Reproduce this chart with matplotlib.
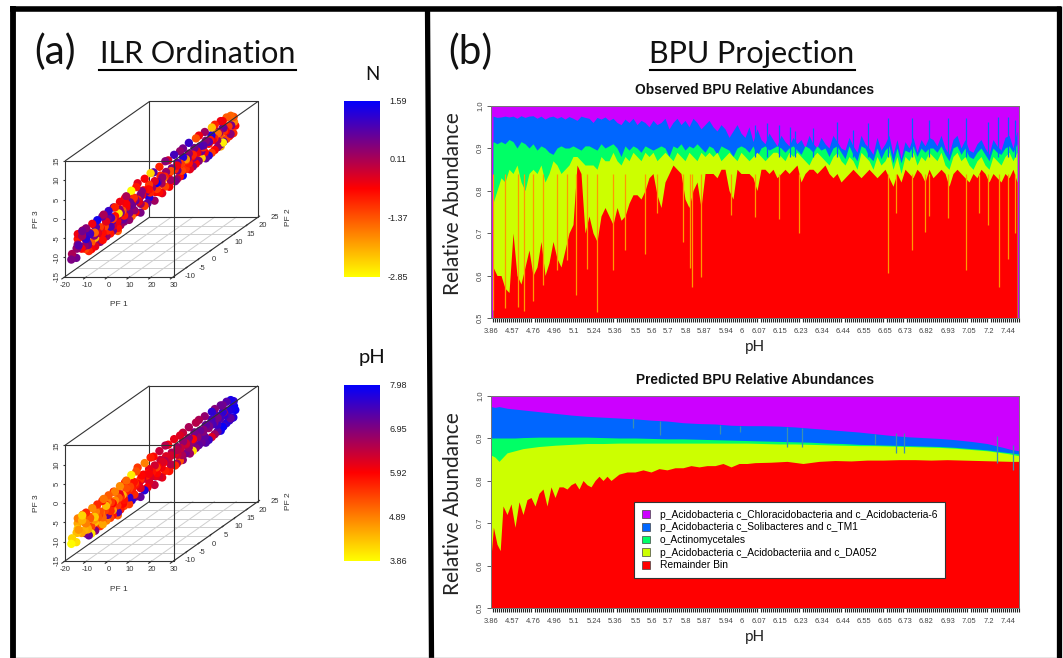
import numpy as np
import matplotlib
matplotlib.use("Agg")
import matplotlib.pyplot as plt
from matplotlib.colors import LinearSegmentedColormap
from matplotlib.patches import Patch

W, H = 1063, 658

# ordination points, shared by both panels
pf1 = [-19,-18.6,-18.2,-18,-17.7,-17.3,-17,-16.8,-16.5,-16.2,
       -16,-15.7,-15.4,-15.1,-14.8,-14.5,-14.2,-13.9,-13.6,-13.3,
       -13,-12.7,-12.4,-12.1,-11.8,-11.5,-11.2,-10.9,-10.6,-10.3,
       -10,-9.7,-9.4,-9.1,-8.8,-8.5,-8.2,-7.9,-7.6,-7.3,
       -7,-6.7,-6.4,-6.1,-5.8,-5.5,-5.2,-4.9,-4.6,-4.3,
       -4,-3.7,-3.4,-3.1,-2.8,-2.5,-2.2,-1.9,-1.6,-1.3,
       -1,-0.6,-0.2,0.2,0.6,1,1.4,1.8,2.2,2.6,
       3,3.4,3.8,4.2,4.6,5,5.4,5.8,6.2,6.6,
       7,7.4,7.8,8.2,8.6,9,9.4,9.8,10.2,10.6,
       11,11.4,11.8,12.2,12.6,13,13.4,13.8,14.2,14.6,
       15,15.4,15.8,16.2,16.6,17,17.4,17.8,18.2,18.6,
       19,19.4,19.8,20.2,20.6,21,21.4,21.8,22.2,22.6,
       23,23.4,23.8,24,24.2,23.5,22.5,21.5,20.5,19.5,
       -18,-16,-14,-12,-10,-8,-6,-4,-2,0,
       2,4,6,8,10,12,14,16,18,20,
       -17.5,-16.8,-15.2,-14.4,-13.2,-12.5,-11.3,-10.6,-9.8,-9,
       -8.3,-7.5,-6.8,-6,-5.3,-4.5,-3.8,-3,-2.3,-1.5,
       -0.8,0,0.8,1.5,2.3,3,3.8,4.5,5.3,6,
       6.8,7.5,8.3,9,9.8,10.5,11.3,12,12.8,13.5,
       14.3,15,15.8,16.5,17.3,18,18.8,19.5,20.3,21,
       21.8,22.5,23.2,-15,-12,-9,-5,-1,3,7,
       10,13,16,19,22,-13,-7,-3,2,5,
       9,12,15,18,21,-16,-11,-6,-1,4]
pf2 = [-8,-6,-9,-6.5,-7,-5,-8,-5.5,-7.5,-5,
       -6.5,-4,-7,-3.5,-6,-4,-6.5,-3,-5.5,-3.5,
       -5,-2,-4.5,-1.5,-4,-2,-3.5,-1,-3,-1,
       -3,-0.5,-2.5,0,-2,-0.5,-1.5,1,-1,0.5,
       -1,1,0,2,0,1,0.5,3,1,2.5,
       1,3,2,4,2,3,2.5,5,3,4.5,
       3,5.5,4,6,4.5,6,5,7.5,5.5,7,
       6,8,6.5,8.5,7,9,7.5,10,8,10,
       8.5,11,9,11,9.5,11.5,10,12,10.5,12.5,
       11,13.5,11.5,14,12,14.5,13,15,13.5,15.5,
       14,16.5,15,17,15,17.5,16,18,16.5,18.5,
       17,19,17.5,19.5,18,20,18.5,20.5,19,20.5,
       20,21,20.5,21,20,19.5,21,18,19,19,
       -7,-5.5,-5,-3,-2,-1,0,1,3,4,
       5,7,8,10,11,12,14,15,16,18,
       -7,-6,-5,-4.5,-4,-3,-3,-2,-1.5,-1,
       -1,-0.5,0,0.5,1,1.5,2,2.5,3,3.5,
       4,4.5,5,5.5,6,6.5,7,7.5,8,8.5,
       9,9.5,10,10.5,11,11.5,12,12.5,13,13.5,
       14,14.5,15,15.5,16,16.5,17,17.5,18,18.5,
       19,19.5,20,-5,-3.5,-1,1,4,7,9.5,
       11.5,13.5,15.5,18,20,-3.5,0,2.5,5.5,7.5,
       10.5,12.5,15,17,19,-5.5,-2.5,0.5,3.5,6.5]
pf3 = [-10,-7,-11,-5.5,-9,-6,-11,-5,-8,-10,
       -6,-11,-4.5,-9,-7,-10.5,-4,-8,-6,-10,
       -3.5,-9.5,-6,-8.5,-3,-9,-5,-8.5,-2.5,-7,
       -2,-8,-4,-7.5,-1.5,-6,-3.5,-8,-1,-7,
       -1,-6.5,-3,-6,0,-5,-2.5,-6,0.5,-4,
       1,-5,-1,-4.5,2,-3.5,0,-5,2.5,-2.5,
       3.5,-3.5,1,-3,4,-1.5,1,-3,5,-0.5,
       5,-1,2,-1.5,6,0,3,-0.5,7,1,
       7,0.5,4,1,8,1.5,5,1.5,8.5,3,
       9,2.5,6,3,10,3.5,6.5,4,10.5,4.5,
       11,4,7.5,4.5,11.5,5,8.5,5.5,12,6,
       12.5,6.5,10,7,13,7.5,11,8,13.5,8.5,
       13.5,11.5,13,10.5,9,9,11,13,7,6,
       -9,-7,-6,-6,-4,-4,-2,-1,-1,0,
       1,2,3,4,5,6,7,8,9,10,
       -8,-9.5,-8.5,-6,-7,-6,-5.5,-5.5,-3.5,-4.5,
       -4.5,-3.5,-3.5,-2.5,-3,-2,-1.5,-1,-0.5,-1,
       0,1,0.5,2,1,2.5,2,3.5,2.5,4,
       3.5,4.5,4,5.5,5,6.5,5.5,7,6,8,
       6.5,8,7.5,9,8,10,9,10.5,9.5,11,
       10,11,11,-9,-6.5,-6,-4,-0.5,-0.5,1.5,
       3,5.5,6,8,9,-5,-5,-2,0,1.5,
       3.5,4.5,6.5,8.5,10,-9,-7,-3,-1.5,0.5]
n_vals = [0.1,-0.8,0.5,-0.5,0.3,-1.0,0.6,-0.3,0.8,-1.2,
          0.2,-0.9,0.6,-1.4,1.2,-0.6,0.4,-2.2,1.0,-0.4,
          -0.5,0.3,-1.5,0.5,1.4,-0.7,-1.1,0.2,0.7,-0.9,
          0.1,-0.8,-0.4,0.6,1.1,-0.3,0.9,-1.4,0.4,-0.7,
          -0.9,0.2,-2.6,0.4,-0.5,0.7,-1.3,0.3,-0.7,0.5,
          0.1,-1.5,0.6,-0.6,-2.8,0.3,-1.0,0.5,-0.8,0.2,
          -0.4,-1.1,0.4,0.7,-0.6,1.3,-0.8,0.2,-2.5,-0.5,
          0.8,-0.7,1.5,-0.4,-0.9,-1.2,0.3,-0.6,0.4,-0.8,
          -0.3,0.5,-1.3,0.2,1.0,-0.7,-0.5,1.4,0.3,-1.0,
          0.6,-0.4,-1.9,0.3,1.1,-0.6,-0.9,0.4,-1.3,-2.4,
          -0.5,0.7,-0.8,1.2,0.2,-1.1,0.8,-0.6,-2.3,0.3,
          -0.9,0.6,-1.6,0.9,-0.5,-1.2,0.3,-0.7,-1.4,0.5,
          -1.5,-1.8,-1.3,-0.7,-1.0,0.4,0.1,-0.6,-2.7,-2.2,
          0.4,-0.5,0.9,-0.8,0.6,-1.1,0.3,-0.6,0.7,-0.4,
          -0.7,0.5,-0.9,0.3,-1.1,0.6,-0.5,0.8,-0.8,0.2,
          0.3,-0.6,0.7,-0.9,0.4,1.0,-0.5,-1.2,0.6,-0.3,
          0.9,-0.7,0.2,-1.4,0.5,-0.5,0.8,-0.8,0.3,-1.0,
          0.4,-0.6,0.7,-1.1,0.2,-0.4,0.6,-0.9,-1.5,0.3,
          -0.6,0.5,-0.9,0.8,-0.4,1.2,-1.2,0.3,-0.7,0.6,
          -0.5,0.9,-1.0,0.4,-0.7,1.3,-0.9,0.2,-1.4,0.7,
          -0.6,-1.1,0.5,0.6,-0.4,0.9,-0.8,0.5,-0.7,0.2,
          -1.2,0.4,-0.6,0.3,-1.3,0.8,-0.5,0.6,-0.9,0.1,
          0.5,-0.8,0.6,-0.5,-1.0,0.3,-0.7,0.5,-0.4,-1.1]
ph_vals = [4.2,4.6,3.9,4.9,4.4,5.0,4.1,5.3,4.7,7.0,
           4.5,7.2,4.2,5.4,4.9,4.1,5.6,4.4,5.2,6.9,
           4.8,5.5,4.3,5.1,5.6,4.6,5.3,4.9,5.7,7.1,
           5.0,5.4,4.4,5.8,5.2,4.7,5.5,5.1,5.6,7.3,
           4.9,5.7,5.2,5.4,4.8,5.9,4.5,5.5,5.7,7.5,
           5.1,7.6,5.4,6.9,4.0,5.6,5.8,7.2,5.3,6.2,
           5.5,7.7,5.9,6.0,4.9,6.2,5.6,6.4,5.7,7.4,
           5.9,6.3,5.4,6.1,6.4,5.7,6.2,5.8,6.5,6.0,
           6.0,5.6,6.3,6.6,6.1,5.3,6.5,6.8,6.2,7.0,
           6.4,6.7,6.3,4.1,6.6,6.9,5.9,7.2,6.5,7.1,
           6.6,7.3,6.5,7.5,6.8,6.2,7.0,6.7,7.6,7.2,
           6.9,7.8,7.0,7.4,7.1,7.7,6.6,7.5,7.3,7.9,
           7.8,7.9,7.6,7.9,7.7,7.2,7.5,7.0,7.9,7.8,
           4.3,4.8,5.2,5.5,5.7,5.9,6.1,5.3,5.8,6.3,
           6.0,6.3,6.5,6.7,6.4,6.8,7.0,6.9,7.3,7.5,
           4.3,4.6,4.8,5.1,4.7,5.3,5.0,5.4,4.9,5.5,
           5.2,4.8,5.6,5.3,5.0,5.7,5.4,5.8,5.5,5.9,
           5.6,6.0,5.7,6.1,5.8,6.3,5.9,6.4,6.0,6.2,
           6.3,6.6,6.1,6.7,6.4,6.8,6.5,6.9,6.7,7.0,
           6.8,7.1,6.9,7.2,6.7,7.4,7.0,7.5,7.3,7.6,
           7.4,7.7,7.8,4.6,5.2,5.6,5.8,6.2,6.1,6.5,
           6.6,7.0,7.2,7.5,7.7,4.9,5.5,5.7,6.2,6.0,
           6.4,6.8,7.2,7.4,7.6,4.5,5.1,5.6,6.1,5.9]

n_labels = ["1.59", "0.11", "-1.37", "-2.85"]
ph_labels = ["7.98", "6.95", "5.92", "4.89", "3.86"]

ph_ticklabels = ["3.86","4.57","4.76","4.96","5.1","5.24","5.36","5.5","5.6","5.7","5.8","5.87","5.94","6",
                 "6.07","6.15","6.23","6.34","6.44","6.55","6.65","6.73","6.82","6.93","7.05","7.2","7.44"]
ph_tickpos = [0,5.25,10.5,15.75,20.75,25.75,31,36.25,40.25,44.25,48.75,53.25,58.75,62.75,
              67,72.25,77.5,82.75,88,93.25,98.5,103.5,108.75,114.25,119.5,124.5,129.25]

# observed stack, top of each layer per column
obs_red = [.62,.60,.60,.57,.56,.70,.60,.58,.62,.66,.60,.62,
           .68,.60,.63,.68,.64,.62,.66,.70,.72,.86,.84,.70,
           .74,.70,.68,.74,.76,.74,.72,.76,.73,.74,.77,.79,
           .79,.78,.80,.83,.84,.79,.76,.82,.84,.86,.85,.84,
           .78,.76,.80,.82,.76,.84,.84,.84,.83,.85,.85,.80,
           .78,.85,.84,.84,.84,.83,.80,.85,.85,.84,.85,.83,
           .84,.85,.84,.85,.86,.82,.84,.85,.85,.84,.85,.86,
           .84,.83,.84,.82,.83,.84,.85,.84,.83,.84,.85,.84,
           .83,.84,.85,.83,.81,.84,.82,.85,.84,.83,.85,.84,
           .82,.85,.83,.84,.85,.84,.81,.84,.85,.84,.83,.82,
           .84,.83,.85,.84,.82,.84,.83,.82,.84,.83,.85,.82]
obs_yellow = [.77,.80,.83,.82,.85,.84,.86,.82,.80,.84,.85,.84,
              .86,.82,.84,.87,.86,.84,.85,.86,.88,.88,.87,.86,
              .86,.86,.85,.88,.87,.87,.89,.87,.86,.88,.87,.89,
              .88,.87,.89,.88,.89,.87,.88,.89,.88,.87,.89,.88,
              .87,.89,.88,.87,.89,.88,.89,.88,.89,.87,.88,.89,
              .88,.87,.89,.88,.87,.88,.89,.88,.87,.88,.89,.89,
              .88,.87,.89,.88,.89,.88,.87,.86,.88,.89,.88,.87,
              .86,.88,.89,.87,.86,.88,.87,.85,.89,.88,.87,.85,
              .88,.86,.87,.89,.85,.88,.84,.88,.87,.89,.86,.88,
              .87,.89,.88,.87,.89,.86,.85,.88,.89,.87,.88,.86,
              .85,.87,.88,.86,.85,.88,.87,.86,.88,.89,.87,.89]
obs_green = [.915,.91,.915,.91,.92,.915,.90,.915,.91,.90,.91,.895,
             .905,.90,.89,.885,.90,.905,.90,.90,.905,.90,.895,.905,
             .905,.90,.895,.91,.90,.905,.91,.90,.88,.905,.895,.905,
             .90,.89,.905,.90,.895,.90,.905,.90,.88,.905,.90,.91,
             .895,.905,.90,.91,.90,.89,.905,.90,.885,.905,.90,.895,
             .88,.90,.905,.90,.89,.905,.88,.90,.905,.895,.90,.905,
             .90,.89,.90,.905,.895,.885,.905,.90,.89,.905,.895,.90,
             .88,.90,.905,.89,.875,.905,.885,.87,.905,.90,.88,.87,
             .90,.875,.895,.905,.865,.90,.865,.895,.89,.905,.88,.90,
             .89,.90,.90,.89,.905,.885,.87,.90,.905,.885,.90,.88,
             .875,.89,.90,.885,.87,.90,.89,.885,.90,.905,.89,.91]
obs_blue = [.975,.972,.973,.975,.973,.975,.97,.976,.972,.975,.976,.97,
            .975,.968,.973,.975,.97,.974,.968,.974,.97,.965,.975,.972,
            .97,.96,.972,.968,.973,.965,.97,.96,.955,.968,.96,.97,
            .955,.965,.96,.95,.965,.955,.96,.97,.945,.96,.97,.955,
            .965,.95,.97,.96,.945,.955,.965,.95,.94,.955,.945,.925,
            .94,.955,.935,.925,.95,.915,.945,.92,.91,.935,.92,.905,
            .93,.915,.905,.925,.91,.92,.90,.93,.91,.90,.925,.91,
            .90,.93,.915,.90,.895,.925,.905,.89,.93,.91,.90,.885,
            .925,.895,.91,.93,.885,.92,.875,.915,.90,.925,.89,.92,
            .905,.925,.92,.905,.93,.90,.885,.92,.93,.90,.92,.895,
            .89,.91,.92,.90,.885,.92,.905,.895,.925,.93,.90,.94]

# thin columns of the observed stack
dip_col = [0.6,3.5,6.8,8.3,10.6,13.1,16.6,18.9,21.3,23.9,26.5,30.6,33.5,38.4,41.4,48.1,49.75,50.25,52.4,59.9,66,
           72,77.1,99.3,101.25,105.25,108.5,109.5,114.3,118.7,122.1,124.3,127,129.2,130.9]
dip_low = [.52,.524,.525,.517,.54,.578,.614,.637,.555,.615,.514,.614,.66,.65,.747,.68,.618,.574,.596,.743,.737,
           .734,.70,.606,.747,.659,.702,.739,.735,.614,.747,.72,.574,.64,.70]
spike_col = [66,68.9,72,74.75,76,80.6,86.4,90.6,94.3,99.3,105.25,109.5,114.3,118.7,124.3,126.8,129.2,130.9]
spike_top = [.955,.958,.955,.95,.94,.947,.962,.943,.958,.97,.97,.966,.97,.97,.962,.974,.974,.966]

# predicted stack
pred_red_x = [0,0.6,1.5,2.3,3,4,5,6,7,8,9,10,11,12,13,14,15,16,17,18,19,20,21,22,23,24,25,26,27,28,29,30,
              32,34,36,38,40,42,44,46,48,50,52,54,56,58,60,62,64,66,
              70,74,78,82,86,90,94,98,102,106,110,114,118,122,126,130,132]
pred_red = [.62,.69,.65,.635,.74,.72,.745,.69,.75,.72,.755,.76,.74,.77,.78,.74,.785,.76,.785,.785,.78,.79,.795,.78,.80,.79,.785,.80,.81,.80,.81,.80,
            .815,.82,.82,.825,.82,.828,.825,.83,.83,.835,.832,.835,.835,.84,.832,.84,.84,.842,
            .843,.845,.84,.845,.847,.846,.848,.848,.849,.849,.848,.849,.848,.847,.846,.845,.845]
pred_x = [0,1,2,4,6,8,12,16,20,24,28,32,36,40,44,48,52,56,60,64,68,72,76,80,84,88,92,96,100,104,108,112,116,120,124,128,130,132]
pred_yellow = [.86,.855,.845,.865,.87,.875,
               .88,.883,.885,.887,.887,.888,.888,.888,.888,.888,.888,.888,.888,.888,
               .887,.886,.886,.885,.884,.883,.882,.882,.881,.88,.879,.878,.876,.873,.87,.865,.862,.858]
pred_green = [.90,.90,.90,.90,.90,.901,
              .902,.902,.902,.902,.901,.90,.90,.899,.898,.898,.897,.896,.895,.894,.893,
              .892,.891,.89,.888,.887,.885,.884,.883,.882,.881,.88,.878,.875,.872,.867,.865,.862]
pred_blue = [.974,.972,.974,.97,.968,.966,
             .962,.958,.954,.951,.949,.947,.945,.942,.94,.936,.934,.933,.93,.929,.929,
             .928,.926,.923,.92,.917,.914,.91,.906,.903,.901,.899,.896,.892,.887,.878,.873,.87]
pred_dip_col = [35.6,42.25,57.25,62.25,73.9,77.7,96,101.25,103.3,126.4,130.6]
pred_dip_hi = [.947,.939,.93,.929,.927,.923,.91,.911,.911,.904,.884]
pred_dip_lo = [.923,.908,.91,.915,.88,.88,.885,.864,.864,.841,.825]

legend_labels = ["p_Acidobacteria c_Chloracidobacteria and c_Acidobacteria-6",
                 "p_Acidobacteria c_Solibacteres and c_TM1",
                 "o_Actinomycetales",
                 "p_Acidobacteria c_Acidobacteriia and c_DA052",
                 "Remainder Bin"]
layer_colors = ["#CC00FF", "#0066FF", "#00FF66", "#CCFF00", "#FF0000"]

cmap = LinearSegmentedColormap.from_list("ybr", ["#FFFF00", "#FF0000", "#0000FF"])
arial = ["Liberation Sans", "DejaVu Sans"]
head = ["Lato", "DejaVu Sans"]

fig = plt.figure(figsize=(W / 100, H / 100), dpi=100, facecolor="white")


def px_axes(x0, y0, x1, y1):
    return fig.add_axes([x0 / W, 1 - y1 / H, (x1 - x0) / W, (y1 - y0) / H])


canvas = fig.add_axes([0, 0, 1, 1])
canvas.set_xlim(0, W)
canvas.set_ylim(H, 0)
canvas.axis("off")

# outer frames
canvas.plot([13, 13], [6, 658], color="black", lw=4.2, solid_capstyle="butt")
canvas.plot([10, 1061], [8.5, 8.5], color="black", lw=4, solid_capstyle="butt")
canvas.plot([1058.5, 1058.5], [6, 658], color="black", lw=3.8, solid_capstyle="butt")
canvas.plot([427.5, 431.5], [8, 658], color="black", lw=3.8, solid_capstyle="butt")
canvas.plot([16, 1056], [657.5, 657.5], color="#888888", lw=1)

# headings
canvas.text(55, 52, "(a)", family=head, fontsize=29, ha="center", va="center", color="#111111")
canvas.text(197.5, 54, "ILR Ordination", family=head, fontsize=22, ha="center", va="center", color="#111111")
canvas.plot([99, 296], [69.5, 69.5], color="black", lw=1.5)
canvas.text(470, 52, "(b)", family=head, fontsize=29, ha="center", va="center", color="#111111")
canvas.text(752, 54, "BPU Projection", family=head, fontsize=22, ha="center", va="center", color="#111111")
canvas.plot([650, 855], [69.5, 69.5], color="black", lw=1.5)
canvas.text(372, 75, "N", family=head, fontsize=13.5, ha="center", va="center", color="#111111")
canvas.text(372, 358, "pH", family=head, fontsize=14.5, ha="center", va="center", color="#111111")


def project(a, b, c, dy):
    # oblique view used by the box plots
    sx = 65 + 2.17 * (np.asarray(a, float) + 20) + 2.414 * (np.asarray(b, float) + 10)
    sy = 276.7 + dy - 3.857 * (np.asarray(c, float) + 15) - 1.7 * (np.asarray(b, float) + 10)
    return sx, sy


def box_line(a, b, c, dy, **kw):
    sx, sy = project(a, b, c, dy)
    canvas.plot(sx, sy, **kw)


def box_plot(vals, vmin, vmax, dy):
    dark = dict(color="#333333", lw=0.8, solid_capstyle="butt")
    soft = dict(color="#cfcfcf", lw=0.7)
    for v in range(-10, 31, 10):
        box_line([v, v], [-10, 25], [-15, -15], dy, zorder=1, **soft)
    for v in range(-5, 26, 5):
        box_line([-20, 30], [v, v], [-15, -15], dy, zorder=1, **soft)
    # back of the box
    box_line([-20, -20, 30, 30], [25, 25, 25, 25], [-15, 15, 15, -15], dy, zorder=1, **dark)
    box_line([-20, 30], [25, 25], [-15, -15], dy, zorder=1, **dark)
    box_line([-20, -20], [-10, 25], [-15, -15], dy, zorder=1, **dark)
    box_line([30, 30], [-10, 25], [-15, -15], dy, zorder=1, **dark)
    box_line([-20, -20], [-10, 25], [15, 15], dy, zorder=1, **dark)
    sx, sy = project(pf1, pf2, pf3, dy)
    order = np.argsort(pf2)[::-1]
    canvas.scatter(sx[order], sy[order], c=np.asarray(vals)[order], cmap=cmap, vmin=vmin, vmax=vmax,
                   s=36, linewidths=0, zorder=2)
    # front of the box, over the points
    box_line([-20, -20, 30, 30, -20], [-10, -10, -10, -10, -10], [-15, 15, 15, -15, -15], dy, zorder=3, **dark)
    box_line([30, 30], [-10, 25], [15, 15], dy, zorder=3, **dark)
    # axis ticks and labels
    for v in range(-20, 31, 10):
        box_line([v, v], [-10, -11.5], [-15, -15], dy, zorder=3, **dark)
        sx, sy = project(v, -10, -15, dy)
        canvas.text(sx, sy + 8.5, str(v), family=arial, fontsize=5.5, color="#333333", ha="center", va="center")
    for v in range(-15, 16, 5):
        sx, sy = project(-20, -10, v, dy)
        canvas.plot([sx - 2, sx], [sy, sy], zorder=3, **dark)
        canvas.text(sx - 8, sy, str(v), family=arial, fontsize=5.5, color="#333333", rotation=90, ha="center", va="center")
    for v in range(-10, 26, 5):
        sx, sy = project(30, v, -15, dy)
        canvas.plot([sx, sx + 2], [sy, sy - 1.4], zorder=3, **dark)
        canvas.text(sx + 16.5, sy, str(v), family=arial, fontsize=5.5, color="#333333", ha="center", va="center")
    canvas.text(119, 305 + dy, "PF 1", family=arial, fontsize=6, color="#333333", ha="center", va="center")
    canvas.text(37, 219 + dy, "PF 3", family=arial, fontsize=6, color="#333333", rotation=90, ha="center", va="center")
    canvas.text(288, 217 + dy, "PF 2", family=arial, fontsize=6, color="#333333", rotation=90, ha="center", va="center")


def color_bar(y0, y1, labels):
    ax = px_axes(344, y0, 380, y1)
    ax.imshow(np.linspace(1, 0, 256).reshape(-1, 1), cmap=cmap, aspect="auto")
    ax.axis("off")
    for i, lab in enumerate(labels):
        y = y0 + (y1 - y0) * i / (len(labels) - 1)
        canvas.text(398, y, lab, family=arial, fontsize=6.5, color="#222222", ha="center", va="center")


box_plot(n_vals, -2.85, 1.59, 0)
box_plot(ph_vals, 3.86, 7.98, 284.3)
color_bar(101, 277, n_labels)
color_bar(385, 561.5, ph_labels)


def stack_axes(y0, title, ylab_off):
    ax = px_axes(491, y0, 1019, y0 + 212.5)
    ax.set_xlim(0, 132)
    ax.set_ylim(0.5, 1.0)
    ax.set_facecolor(layer_colors[0])
    for s in ax.spines.values():
        s.set_color("#777777")
        s.set_linewidth(0.7)
    ax.set_yticks([0.5, 0.6, 0.7, 0.8, 0.9, 1.0])
    ax.set_yticklabels(["0.5", "0.6", "0.7", "0.8", "0.9", "1.0"], rotation=90, va="center",
                       family=arial, fontsize=5.4, color="#444444")
    ax.tick_params(axis="y", length=3, width=0.6, color="#444444", pad=2)
    ax.set_xticks(ph_tickpos)
    ax.set_xticklabels(ph_ticklabels, family=arial, fontsize=5.4, color="#444444")
    ax.set_xticks(np.arange(0, 132.1, 0.5), minor=True)
    ax.tick_params(axis="x", which="major", length=0, pad=7.5)
    ax.tick_params(axis="x", which="minor", length=3, width=0.8, color="#222222")
    fig.text(755 / W, 1 - (y0 - 16) / H, title, family=arial, fontsize=9.9, fontweight="bold",
             color="#111111", ha="center", va="center")
    canvas.text(755, y0 + 241.5, "pH", family=head, fontsize=11, ha="center", va="center", color="#222222")
    canvas.text(453, y0 + ylab_off, "Relative Abundance", family=head, fontsize=15, rotation=90,
                ha="center", va="center", color="#222222")
    return ax


cols = np.arange(132) + 0.5

ax1 = stack_axes(105.5, "Observed BPU Relative Abundances", 98.5)
for top, color in zip([obs_blue, obs_green, obs_yellow, obs_red], layer_colors[1:]):
    ax1.fill_between(cols, 0.5, top, color=color, lw=0)
ax1.vlines(spike_col, 0.88, spike_top, color=layer_colors[1], lw=0.9)
ax1.vlines(dip_col, dip_low, 0.84, color="#FF9A00", lw=0.9)

ax2 = stack_axes(395.5, "Predicted BPU Relative Abundances", 108.5)
for top, color in zip([pred_blue, pred_green, pred_yellow], layer_colors[1:4]):
    ax2.fill_between(pred_x, 0.5, top, color=color, lw=0)
ax2.fill_between(pred_red_x, 0.5, pred_red, color=layer_colors[4], lw=0)
ax2.vlines(pred_dip_col, pred_dip_lo, pred_dip_hi, color="#3c8fb0", lw=0.9)

handles = [Patch(facecolor=c, edgecolor="#444444", lw=0.5) for c in layer_colors]
leg = ax2.legend(handles, legend_labels, loc="upper left", bbox_to_anchor=((634.3 - 491) / 528, (608 - 501.7) / 212.5),
                 borderaxespad=0, prop={"family": arial, "size": 7.4}, fancybox=False, framealpha=1,
                 edgecolor="#333333", handlelength=0.77, handleheight=0.77, handletextpad=0.96,
                 labelspacing=0.26, borderpad=0.77)
leg.get_frame().set_linewidth(0.8)

fig.savefig("out.png", dpi=100)
